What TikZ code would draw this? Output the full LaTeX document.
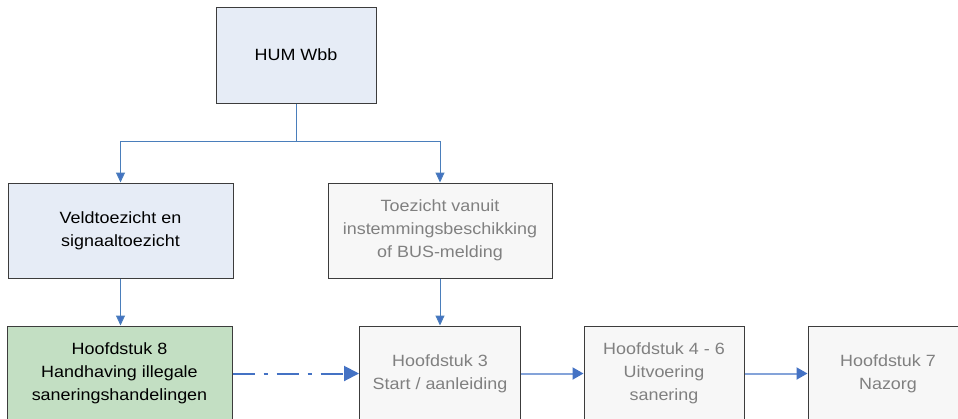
\documentclass[tikz,border=0pt]{standalone}
\usepackage{fontspec}
\setmainfont[FakeStretch=1.1]{Liberation Sans}
\usetikzlibrary{arrows.meta}
\definecolor{bordercol}{HTML}{3C3C3C}
\definecolor{bluefill}{HTML}{E6ECF6}
\definecolor{greenfill}{HTML}{C3DFC3}
\definecolor{greyfill}{HTML}{F7F7F7}
\definecolor{greytext}{HTML}{808080}
\definecolor{treeblue}{HTML}{4A7EBB}
\definecolor{tipblue}{HTML}{4472C4}
\definecolor{flowblue}{HTML}{84A3D9}
\tikzset{
  box/.style={draw=bordercol, line width=1pt, rectangle, inner sep=0pt, align=center,
    font=\fontsize{16.3}{23}\selectfont},
  bluebox/.style={box, fill=bluefill, text=black},
  greenbox/.style={box, fill=greenfill, text=black},
  greybox/.style={box, fill=greyfill, text=greytext},
  treeline/.style={draw=treeblue, line width=1pt},
  treearrow/.style={treeline, -{Triangle[length=10pt,width=9pt,fill=tipblue]}},
  flowarrow/.style={draw=flowblue, line width=2pt, -{Triangle[length=11pt,width=12pt,fill=tipblue,color=tipblue]}},
  dasharrow/.style={draw=tipblue, line width=2pt, dash pattern=on 22pt off 9pt on 4pt off 9pt,
    -{Triangle[length=15pt,width=15pt,fill=tipblue]}}
}
\begin{document}
\begin{tikzpicture}[x=1pt,y=-1pt]
\useasboundingbox (0,0) rectangle (958,418);
\clip (0,0) rectangle (958,418);
\node[bluebox, minimum width=160pt, minimum height=96pt] (hum) at (296,55) {HUM Wbb};
\node[bluebox, minimum width=225pt, minimum height=95pt] (veld) at (120.5,230.5) {Veldtoezicht en\\signaaltoezicht};
\node[greybox, minimum width=224pt, minimum height=95pt] (toez) at (440,230.5) {Toezicht vanuit\\instemmingsbeschikking\\of BUS-melding};
\node[greenbox, minimum width=225pt, minimum height=95pt] (h8) at (119.5,373.5) {Hoofdstuk 8\\Handhaving illegale\\saneringshandelingen};
\node[greybox, minimum width=161pt, minimum height=95pt] (h3) at (440,373.5) {Hoofdstuk 3\\Start / aanleiding};
\node[greybox, minimum width=160pt, minimum height=95pt] (h46) at (664,373.5) {Hoofdstuk 4 - 6\\Uitvoering\\sanering};
\node[greybox, minimum width=160pt, minimum height=95pt] (h7) at (888,373.5) {Hoofdstuk 7\\Nazorg};
\coordinate (j) at (296,141);
\draw[treeline] (hum.south) -- (j);
\draw[treearrow] (j) -| (veld.north);
\draw[treearrow] (j) -| (toez.north);
\draw[treearrow] (veld.south) -- (h8.north -| veld.south);
\draw[treearrow] (toez.south) -- (h3.north -| toez.south);
\draw[dasharrow] (h8.east) -- (h3.west);
\draw[flowarrow] (h3.east) -- (h46.west);
\draw[flowarrow] (h46.east) -- (h7.west);
\end{tikzpicture}
\end{document}
